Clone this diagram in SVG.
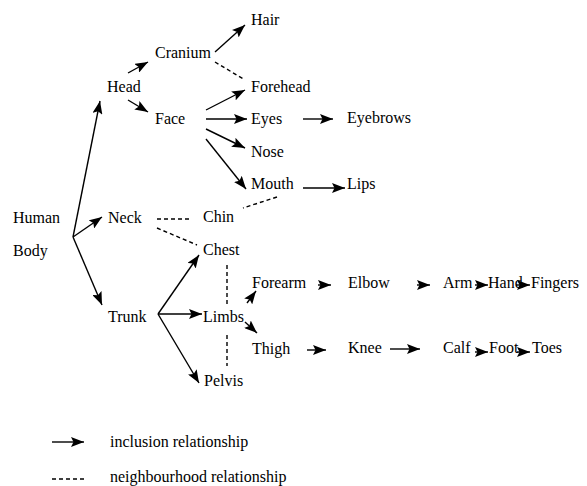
<svg xmlns="http://www.w3.org/2000/svg" width="587" height="486" viewBox="0 0 587 486">
<style>
.t text{font-size:16px;fill:#000}
.inc{stroke:#000;stroke-width:1.4;fill:none;marker-end:url(#ah)}
.nb{stroke:#000;stroke-width:1.4;fill:none;stroke-dasharray:4 3}
</style>
<defs>
<marker id="ah" markerUnits="userSpaceOnUse" markerWidth="14" markerHeight="10" refX="13" refY="5" orient="auto">
<path d="M0,0 L13,5 L0,10 L2.5,5 z" fill="#000"/>
</marker>
</defs>
<rect width="587" height="486" fill="#fff"/>
<g id="connectors">
<line class="inc" x1="73" y1="237" x2="100" y2="101"/>
<line class="inc" x1="73" y1="237" x2="102" y2="217"/>
<line class="inc" x1="73" y1="237" x2="102" y2="305"/>
<line class="inc" x1="128" y1="73" x2="148" y2="62"/>
<line class="inc" x1="128" y1="100" x2="148" y2="112"/>
<line class="inc" x1="215" y1="52" x2="245" y2="25"/>
<line class="nb" x1="215" y1="62" x2="245" y2="80"/>
<line class="inc" x1="206" y1="110" x2="245" y2="90"/>
<line class="inc" x1="206" y1="119" x2="247" y2="119"/>
<line class="inc" x1="206" y1="129" x2="245" y2="148"/>
<line class="inc" x1="206" y1="139" x2="246" y2="189"/>
<line class="inc" x1="303" y1="119" x2="333" y2="119"/>
<line class="inc" x1="303" y1="188" x2="345" y2="188"/>
<line class="nb" x1="277" y1="197" x2="243" y2="208"/>
<line class="nb" x1="157" y1="219" x2="190" y2="219"/>
<line class="nb" x1="157" y1="228" x2="197" y2="245"/>
<line class="nb" x1="227" y1="265" x2="227" y2="307"/>
<line class="nb" x1="227" y1="335" x2="227" y2="366"/>
<line class="inc" x1="158" y1="314" x2="199" y2="255"/>
<line class="inc" x1="158" y1="314" x2="202" y2="314"/>
<line class="inc" x1="158" y1="314" x2="199" y2="383"/>
<line class="inc" x1="247" y1="303" x2="256" y2="291"/>
<line class="inc" x1="245" y1="322" x2="257" y2="333"/>
<line class="inc" x1="318" y1="285" x2="331" y2="285"/>
<line class="inc" x1="417" y1="285" x2="430" y2="285"/>
<line class="inc" x1="475" y1="285" x2="488" y2="285"/>
<line class="inc" x1="516" y1="285" x2="530" y2="285"/>
<line class="inc" x1="307" y1="350" x2="326" y2="350"/>
<line class="inc" x1="390" y1="349" x2="420" y2="349"/>
<line class="inc" x1="475" y1="352" x2="488" y2="352"/>
<line class="inc" x1="517" y1="352" x2="530" y2="352"/>
</g>
<g class="t" font-family="'Liberation Serif', 'Times New Roman', serif">
<g id="n-human"><text x="13" y="223">Human</text><text x="13" y="256">Body</text></g>
<g id="n-head"><text x="107" y="92">Head</text></g>
<g id="n-cranium"><text x="155" y="58">Cranium</text></g>
<g id="n-hair"><text x="251" y="25">Hair</text></g>
<g id="n-forehead"><text x="251" y="92">Forehead</text></g>
<g id="n-face"><text x="155" y="124">Face</text></g>
<g id="n-eyes"><text x="251" y="124">Eyes</text></g>
<g id="n-eyebrows"><text x="347" y="123">Eyebrows</text></g>
<g id="n-nose"><text x="251" y="157">Nose</text></g>
<g id="n-mouth"><text x="251" y="189">Mouth</text></g>
<g id="n-lips"><text x="347" y="189">Lips</text></g>
<g id="n-neck"><text x="108" y="223">Neck</text></g>
<g id="n-chin"><text x="203" y="222">Chin</text></g>
<g id="n-chest"><text x="203" y="255">Chest</text></g>
<g id="n-trunk"><text x="108" y="322">Trunk</text></g>
<g id="n-limbs"><text x="203" y="322">Limbs</text></g>
<g id="n-pelvis"><text x="204" y="386">Pelvis</text></g>
<g id="n-forearm"><text x="252" y="288">Forearm</text></g>
<g id="n-elbow"><text x="348" y="288">Elbow</text></g>
<g id="n-arm"><text x="443" y="288">Arm</text></g>
<g id="n-hand"><text x="488" y="288">Hand</text></g>
<g id="n-fingers"><text x="531" y="288">Fingers</text></g>
<g id="n-thigh"><text x="252" y="354">Thigh</text></g>
<g id="n-knee"><text x="348" y="353">Knee</text></g>
<g id="n-calf"><text x="443" y="353">Calf</text></g>
<g id="n-foot"><text x="489" y="353">Foot</text></g>
<g id="n-toes"><text x="532" y="353">Toes</text></g>
<g id="legend">
<text x="110" y="447">inclusion relationship</text>
<text x="110" y="482">neighbourhood relationship</text>
</g>
</g>
<g id="legend-lines">
<line class="inc" x1="52" y1="442" x2="84" y2="442"/>
<line class="nb" x1="52" y1="479" x2="84" y2="479"/>
</g>
</svg>
